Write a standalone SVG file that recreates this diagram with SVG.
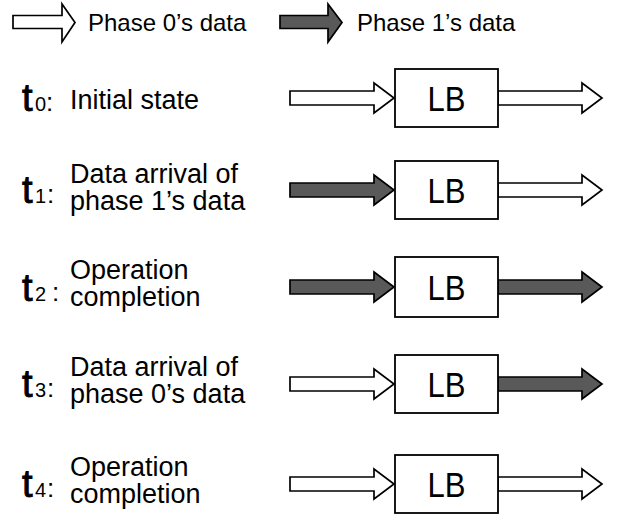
<svg xmlns="http://www.w3.org/2000/svg" width="622" height="515" viewBox="0 0 622 515">
<style>
  .txt{font-family:"Liberation Sans",Arial,sans-serif;fill:#000}
  .leg{font-size:24px}
  .lbl{font-size:27px}
  .tb{font-size:38px;stroke:#000;stroke-width:0.9}
  .ts{font-size:20px}
  .tc{font-size:26px}
  .lb{font-size:35px}
  .box{fill:#fff;stroke:#000;stroke-width:1.8}
  .aw{fill:#fff;stroke:#000;stroke-width:1.7;stroke-linejoin:miter}
  .ad{fill:#595959;stroke:#000;stroke-width:1.7;stroke-linejoin:miter}
</style>
<rect width="622" height="515" fill="#fff"/>
<g id="legend">
  <polygon class="aw" points="13,15.5 62,15.5 62,4 75,22.5 62,42 62,28.5 13,28.5"/>
  <text class="txt leg" x="88" y="31">Phase 0’s data</text>
  <polygon class="ad" points="280,15.5 328,15.5 328,4 342,22.5 328,42 328,28.5 280,28.5"/>
  <text class="txt leg" x="357" y="31">Phase 1’s data</text>
</g>
<g id="labels">
  <g id="label-t0">
    <text class="txt tb" x="22" y="111">t</text><text class="txt ts" x="35" y="111">0</text><text class="txt tc" x="46" y="111">:</text>
    <text class="txt lbl" x="70" y="109">Initial state</text>
  </g>
  <g id="label-t1">
    <text class="txt tb" x="22" y="203">t</text><text class="txt ts" x="35" y="203">1</text><text class="txt tc" x="47" y="203">:</text>
    <text class="txt lbl" x="70" y="183">Data arrival of</text>
    <text class="txt lbl" x="70" y="210">phase 1’s data</text>
  </g>
  <g id="label-t2">
    <text class="txt tb" x="22" y="301">t</text><text class="txt ts" x="35" y="301">2</text><text class="txt tc" x="52" y="301">:</text>
    <text class="txt lbl" x="70" y="279">Operation</text>
    <text class="txt lbl" x="70" y="306">completion</text>
  </g>
  <g id="label-t3">
    <text class="txt tb" x="22" y="397">t</text><text class="txt ts" x="35" y="397">3</text><text class="txt tc" x="47" y="397">:</text>
    <text class="txt lbl" x="70" y="376">Data arrival of</text>
    <text class="txt lbl" x="70" y="403">phase 0’s data</text>
  </g>
  <g id="label-t4">
    <text class="txt tb" x="22" y="497">t</text><text class="txt ts" x="35" y="497">4</text><text class="txt tc" x="47" y="497">:</text>
    <text class="txt lbl" x="70" y="476">Operation</text>
    <text class="txt lbl" x="70" y="503">completion</text>
  </g>
</g>
<g id="connectors">
  <polygon class="aw" points="290,91 374,91 374,83 394,98 374,113 374,105 290,105"/>
  <polygon class="aw" points="498,91 582,91 582,83 602,98 582,113 582,105 498,105"/>
  <polygon class="ad" points="290,183 374,183 374,175 394,190 374,205 374,197 290,197"/>
  <polygon class="aw" points="498,183 582,183 582,175 602,190 582,205 582,197 498,197"/>
  <polygon class="ad" points="290,280 374,280 374,272 394,287 374,302 374,294 290,294"/>
  <polygon class="ad" points="498,280 582,280 582,272 602,287 582,302 582,294 498,294"/>
  <polygon class="aw" points="290,377 374,377 374,369 394,384 374,399 374,391 290,391"/>
  <polygon class="ad" points="498,377 582,377 582,369 602,384 582,399 582,391 498,391"/>
  <polygon class="aw" points="290,477 374,477 374,469 394,484 374,499 374,491 290,491"/>
  <polygon class="aw" points="498,477 582,477 582,469 602,484 582,499 582,491 498,491"/>
</g>
<g id="lb0"><rect class="box" x="395" y="69" width="103" height="58"/><text class="txt lb" x="446.5" y="111" text-anchor="middle" textLength="38" lengthAdjust="spacingAndGlyphs">LB</text></g>
<g id="lb1"><rect class="box" x="395" y="161" width="103" height="58"/><text class="txt lb" x="446.5" y="203" text-anchor="middle" textLength="38" lengthAdjust="spacingAndGlyphs">LB</text></g>
<g id="lb2"><rect class="box" x="395" y="257" width="103" height="60"/><text class="txt lb" x="446.5" y="300" text-anchor="middle" textLength="38" lengthAdjust="spacingAndGlyphs">LB</text></g>
<g id="lb3"><rect class="box" x="395" y="355" width="103" height="58"/><text class="txt lb" x="446.5" y="397" text-anchor="middle" textLength="38" lengthAdjust="spacingAndGlyphs">LB</text></g>
<g id="lb4"><rect class="box" x="395" y="455" width="103" height="58"/><text class="txt lb" x="446.5" y="497" text-anchor="middle" textLength="38" lengthAdjust="spacingAndGlyphs">LB</text></g>
</svg>
